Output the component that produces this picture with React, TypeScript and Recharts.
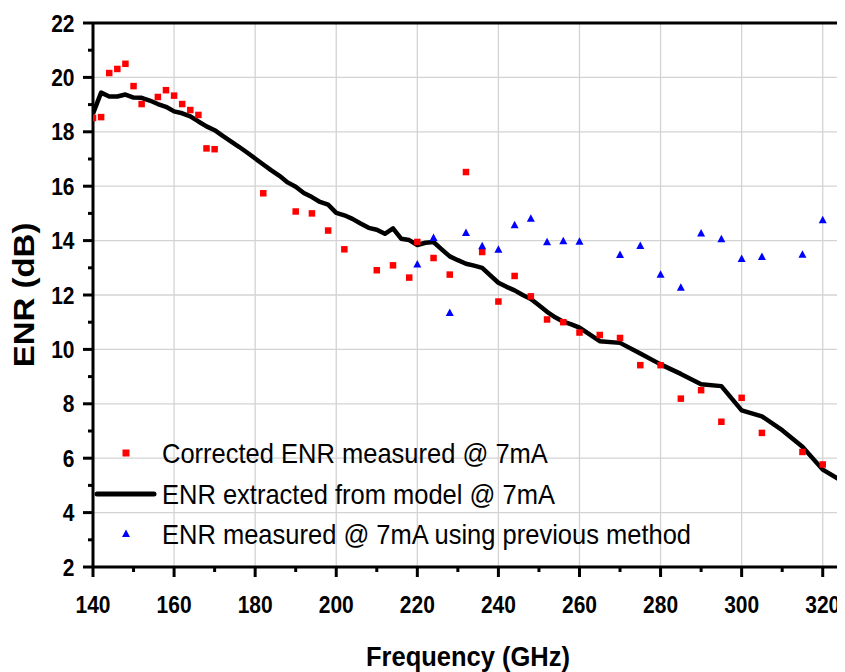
import {
  ComposedChart,
  Line,
  Scatter,
  XAxis,
  YAxis,
  ReferenceLine,
  Legend,
  Label,
} from "recharts";

// corrected ENR measured @ 7mA (red squares)
const redFreq = [
  140, 142, 144, 146, 148, 150, 152, 156, 158, 160, 162, 164, 166, 168, 170,
  182, 190, 194, 198, 202, 210, 214, 218, 220, 224, 228, 232, 236, 240, 244,
  248, 252, 256, 260, 265, 270, 275, 280, 285, 290, 295, 300, 305, 315, 320, 325,
];
const redEnr = [
  18.51, 18.54, 20.16, 20.31, 20.5, 19.68, 19.02, 19.28, 19.53, 19.33, 19.02,
  18.8, 18.62, 17.39, 17.36, 15.74, 15.07, 15.0, 14.37, 13.68, 12.91, 13.09,
  12.64, 13.95, 13.36, 12.75, 16.52, 13.58, 11.76, 12.7, 11.95, 11.1, 11.0,
  10.62, 10.53, 10.42, 9.42, 9.42, 8.19, 8.5, 7.34, 8.22, 6.93, 6.23, 5.77, 4.29,
];

// ENR measured with previous method (blue triangles)
const blueFreq = [
  220, 224, 228, 232, 236, 240, 244, 248, 252, 256, 260, 270, 275, 280, 285,
  290, 295, 300, 305, 315, 320, 325,
];
const blueEnr = [
  13.12, 14.1, 11.34, 14.28, 13.79, 13.66, 14.56, 14.8, 13.94, 13.98, 13.96,
  13.47, 13.8, 12.74, 12.27, 14.26, 14.05, 13.32, 13.4, 13.48, 14.75, 14.63,
];

// ENR extracted from model (black line)
const modelFreq = [
  140, 142, 144, 146, 148, 150, 152, 154, 156, 158, 160, 162, 164, 166, 168,
  170, 172, 174, 176, 178, 180, 182, 184, 186, 188, 190, 192, 194, 196, 198,
  200, 202, 204, 206, 208, 210, 212, 214, 216, 218, 220, 222, 224, 226, 228,
  230, 232, 234, 236, 238, 240, 242, 244, 246, 248, 250, 252, 254, 256, 258,
  260, 265, 270, 275, 280, 285, 290, 295, 300, 305, 310, 315, 320, 325,
];
const modelEnr = [
  18.67, 19.44, 19.3, 19.3, 19.37, 19.26, 19.25, 19.15, 19.02, 18.92, 18.75,
  18.68, 18.57, 18.38, 18.2, 18.06, 17.85, 17.65, 17.45, 17.24, 17.02, 16.8,
  16.58, 16.38, 16.14, 15.98, 15.75, 15.6, 15.42, 15.32, 15.02, 14.93, 14.8,
  14.63, 14.47, 14.4, 14.25, 14.45, 14.07, 14.02, 13.84, 13.92, 13.95, 13.68,
  13.42, 13.28, 13.15, 13.08, 13.0, 12.72, 12.45, 12.3, 12.17, 12.0, 11.85,
  11.62, 11.38, 11.18, 11.02, 10.92, 10.8, 10.3, 10.24, 9.85, 9.45, 9.1, 8.72,
  8.65, 7.76, 7.54, 7.03, 6.42, 5.58, 5.13,
];

const xTicks = [140, 150, 160, 170, 180, 190, 200, 210, 220, 230, 240, 250, 260, 270, 280, 290, 300, 310, 320, 325];
const xMajor = [140, 160, 180, 200, 220, 240, 260, 280, 300, 320];
const yTicks = [2, 3, 4, 5, 6, 7, 8, 9, 10, 11, 12, 13, 14, 15, 16, 17, 18, 19, 20, 21, 22];
const yMajor = [2, 4, 6, 8, 10, 12, 14, 16, 18, 20, 22];

const legendNames = [
  "Corrected ENR measured @ 7mA",
  "ENR extracted from model @ 7mA",
  "ENR measured @ 7mA using previous method",
];

const zip = (f: number[], v: number[]) => f.map((x, i) => ({ f: x, enr: v[i] }));
const redData = zip(redFreq, redEnr);
const blueData = zip(blueFreq, blueEnr);
const modelData = zip(modelFreq, modelEnr);

const FONT = "'Liberation Sans', Arial, Helvetica, sans-serif";
const frame = { stroke: "#000", strokeWidth: 3 };

// layout
const W = 837;
const H = 664;
const M = { top: 15, right: 2, left: 0, bottom: 25 };
const Y_AXIS_W = 85;
const X_AXIS_H = 80;
const PLOT_W = W - M.left - M.right - Y_AXIS_W;
const PLOT_H = H - M.top - M.bottom - X_AXIS_H;

const XTick = ({ x, y, payload }: any) => {
  const v = payload.value;
  if (v === 325) {
    // right border of the frame
    return <line x1={x} x2={x} y1={y} y2={y - PLOT_H} stroke="#000" strokeWidth={3} />;
  }
  const major = xMajor.includes(v);
  return (
    <g>
      <line x1={x} x2={x} y1={y} y2={y + (major ? 10 : 5)} stroke="#000" strokeWidth={3} />
      {major && (
        <g transform={`translate(${x}, ${y + 45.5}) scale(1, 1.15)`}>
          <text x={0} y={0} textAnchor="middle" fontFamily={FONT} fontWeight="bold" fontSize={21} fill="#000">
            {v}
          </text>
        </g>
      )}
    </g>
  );
};

const YTick = ({ x, y, payload }: any) => {
  const v = payload.value;
  const major = yMajor.includes(v);
  return (
    <g>
      {v === 22 && <line x1={x} x2={x + PLOT_W} y1={y} y2={y} stroke="#000" strokeWidth={3} />}
      <line x1={x} x2={x - (major ? 10 : 5)} y1={y} y2={y} stroke="#000" strokeWidth={3} />
      {major && (
        <g transform={`translate(${x - 18.5}, ${y + 8.5}) scale(1, 1.15)`}>
          <text x={0} y={0} textAnchor="end" fontFamily={FONT} fontWeight="bold" fontSize={21} fill="#000">
            {v}
          </text>
        </g>
      )}
    </g>
  );
};

const Square = (p: any) => (
  <rect x={p.cx - 3.25} y={p.cy - 3.25} width={6.5} height={6.5} fill="#ff0000" />
);

const Tri = (p: any) => (
  <polygon
    points={`${p.cx},${p.cy - 4.5} ${p.cx - 4},${p.cy + 3} ${p.cx + 4},${p.cy + 3}`}
    fill="#0000ff"
  />
);

const LegendBox = () => (
  <div style={{ fontFamily: FONT, fontSize: 25.5, color: "#000" }}>
    {legendNames.map((name, i) => (
      <div key={name} style={{ display: "flex", alignItems: "center", height: 40.5 }}>
        <svg width={64} height={20} style={{ display: "block" }}>
          {i === 0 && <rect x={28.5} y={6.5} width={7} height={7} fill="#ff0000" />}
          {i === 1 && (
            <line x1={3} x2={60} y1={10} y2={10} stroke="#000" strokeWidth={5} strokeLinecap="round" />
          )}
          {i === 2 && <polygon points="32,5.5 28,13 36,13" fill="#0000ff" />}
        </svg>
        <span
          style={{
            marginLeft: 4,
            whiteSpace: "nowrap",
            lineHeight: "40px",
            display: "inline-block",
            transform: "scaleY(1.1)",
          }}
        >
          {name}
        </span>
      </div>
    ))}
  </div>
);

export default function App() {
  return (
    <ComposedChart width={W} height={H} margin={M}>
      {xMajor.slice(1).map((v) => (
        <ReferenceLine key={"vx" + v} x={v} stroke="#d3d3d3" strokeWidth={1.3} />
      ))}
      {yMajor.slice(1, -1).map((v) => (
        <ReferenceLine key={"hy" + v} y={v} stroke="#d3d3d3" strokeWidth={1.3} />
      ))}
      <XAxis
        type="number"
        dataKey="f"
        domain={[140, 325]}
        allowDataOverflow
        ticks={xTicks}
        interval={0}
        tickSize={0}
        tickMargin={0}
        tick={<XTick />}
        height={X_AXIS_H}
        axisLine={frame}
      >
        <Label
          content={({ viewBox }: any) => {
            const cx = viewBox.x + viewBox.width / 2;
            const cy = viewBox.y + 99;
            return (
              <g transform={`translate(${cx}, ${cy}) scale(1, 1.1)`}>
                <text x={0} y={0} textAnchor="middle" fontFamily={FONT} fontWeight="bold" fontSize={25.5} fill="#000">
                  Frequency (GHz)
                </text>
              </g>
            );
          }}
        />
      </XAxis>
      <YAxis
        type="number"
        dataKey="enr"
        domain={[2, 22]}
        allowDataOverflow
        ticks={yTicks}
        interval={0}
        tickSize={0}
        tickMargin={0}
        tick={<YTick />}
        width={Y_AXIS_W}
        axisLine={frame}
      >
        <Label
          content={({ viewBox }: any) => {
            const cx = 26;
            const cy = viewBox.y + viewBox.height / 2;
            return (
              <g transform={`translate(${cx}, ${cy}) scale(1, 1.1) rotate(-90)`}>
                <text x={0} y={0} textAnchor="middle" fontFamily={FONT} fontWeight="bold" fontSize={30} fill="#000">
                  ENR (dB)
                </text>
              </g>
            );
          }}
        />
      </YAxis>
      <Line
        data={modelData}
        dataKey="enr"
        type="linear"
        stroke="#000"
        strokeWidth={4.5}
        strokeLinejoin="round"
        dot={false}
        activeDot={false}
        isAnimationActive={false}
      />
      <Scatter data={redData} dataKey="enr" shape={<Square />} isAnimationActive={false} />
      <Scatter data={blueData} dataKey="enr" shape={<Tri />} isAnimationActive={false} />
      <Legend
        layout="vertical"
        align="center"
        verticalAlign="middle"
        content={<LegendBox />}
        wrapperStyle={{ left: 86, top: 425, width: "auto", height: "auto" }}
      />
    </ComposedChart>
  );
}
